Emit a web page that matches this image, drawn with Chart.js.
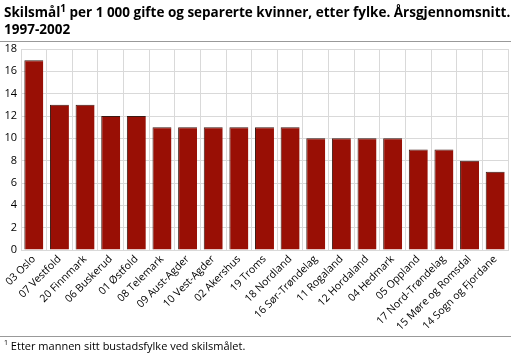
<!DOCTYPE html>
<html>
<head>
<meta charset="utf-8">
<script src="https://cdn.jsdelivr.net/npm/chart.js@4"></script>
<style>
  body { margin: 0; background: #fff; font-family: "Open Sans", sans-serif; }
  #wrap { position: relative; width: 511px; height: 354px; }
  #title { position: absolute; left: 4px; top: 4px; font-weight: bold; font-size: 13.5px; line-height: 17px; color: #000; }
  #title sup { font-size: 10px; line-height: 0; }
  #topline { position: absolute; left: 0; top: 41px; width: 511px; height: 1px; background: #999; }
  #botline { position: absolute; left: 0; top: 336px; width: 511px; height: 1px; background: #999; }
  #note { position: absolute; left: 4px; top: 338px; font-size: 11px; color: #000; }
  #note sup { font-size: 7px; }
  canvas { position: absolute; left: 0; top: 0; }
</style>
</head>
<body>
<div id="wrap">
  <canvas id="skilsmal-chart" width="511" height="354"></canvas>
  <div id="title">Skilsmål<sup>1</sup> per 1 000 gifte og separerte kvinner, etter fylke. Årsgjennomsnitt.<br>1997-2002</div>
  <div id="topline"></div>
  <div id="botline"></div>
  <div id="note"><sup>1</sup> Etter mannen sitt bustadsfylke ved skilsmålet.</div>
</div>
<script>
const fylker = [
  "03 Oslo", "07 Vestfold", "20 Finnmark", "06 Buskerud", "01 Østfold",
  "08 Telemark", "09 Aust-Agder", "10 Vest-Agder", "02 Akershus", "19 Troms",
  "18 Nordland", "16 Sør-Trøndelag", "11 Rogaland", "12 Hordaland", "04 Hedmark",
  "05 Oppland", "17 Nord-Trøndelag", "15 Møre og Romsdal", "14 Sogn og Fjordane"
];
const skilsmal = [17, 13, 13, 12, 12, 11, 11, 11, 11, 11, 11, 10, 10, 10, 10, 9, 9, 8, 7];
const yTicks = [0, 2, 4, 6, 8, 10, 12, 14, 16, 18];

const ctx = document.getElementById("skilsmal-chart");

new Chart(ctx, {
  type: "bar",
  data: {
    labels: fylker,
    datasets: [
      {
        label: "Skilsmål",
        data: skilsmal,
        backgroundColor: "#990f05",
        borderColor: "#3a1a14",
        borderWidth: { top: 1, left: 1, right: 0, bottom: 0 },
        categoryPercentage: 0.74,
        barPercentage: 1,
      },
    ],
  },
  options: {
    responsive: false,
    animation: false,
    layout: { padding: { top: 49, right: 3, left: 0, bottom: 24 } },
    plugins: { legend: { display: false }, tooltip: { enabled: false } },
    scales: {
      x: {
        afterFit: (s) => { s.height = 80; },
        grid: { color: "#d9d9d9", drawTicks: false },
        border: { color: "#d9d9d9" },
        ticks: {
          maxRotation: 45,
          minRotation: 45,
          autoSkip: false,
          padding: 3,
          color: "#000",
          font: { family: "Open Sans", size: 10.5 },
        },
      },
      y: {
        min: 0,
        max: 18,
        afterFit: (s) => { s.width = 21; },
        afterBuildTicks: (s) => { s.ticks = yTicks.map((v) => ({ value: v })); },
        grid: { color: "#d9d9d9", drawTicks: false },
        border: { color: "#d9d9d9" },
        ticks: {
          padding: 4,
          color: "#000",
          font: { family: "Open Sans", size: 11 },
        },
      },
    },
  },
});
</script>
</body>
</html>
